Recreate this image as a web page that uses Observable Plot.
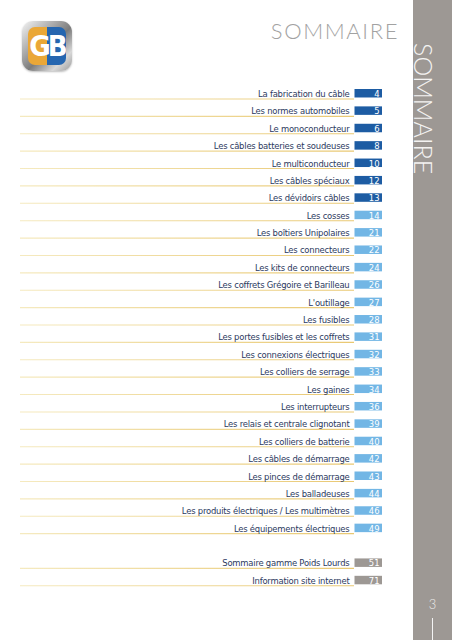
<!DOCTYPE html>
<html>
<head>
<meta charset="utf-8">
<script src="https://cdn.jsdelivr.net/npm/d3@7"></script>
<script src="https://cdn.jsdelivr.net/npm/@observablehq/plot@0.6"></script>
<style>
  html, body { margin: 0; padding: 0; background: #fff; }
  #page { position: relative; width: 452px; height: 640px; overflow: hidden; background: #fff; }
  #page > * { position: absolute; }
  #chart text.toc { letter-spacing: -0.22px; }
  #band { left: 413px; top: 0; width: 39px; height: 640px; background: #9d9894; }
  #title { right: 53px; top: 19.5px; font: 300 22px/22px "Lato", sans-serif; letter-spacing: 1.6px; color: #a2a2a2; white-space: nowrap; }
  #vtitle { left: 437px; top: 43px; font: 300 25px/26px "Lato", sans-serif; letter-spacing: 0px; color: #f4f3f2; transform: rotate(90deg); transform-origin: 0 0; white-space: nowrap; }
  #folio { left: 422px; top: 598px; width: 21px; text-align: center; font: 300 13px/13px "Lato", sans-serif; color: #ecebea; }
  #folioLine { left: 432px; top: 618px; width: 1px; height: 22px; background: #f4f4f4; }
  #logo { left: 22px; top: 21px; width: 50px; height: 50px; border-radius: 11px;
          background: linear-gradient(135deg, #f4f4f4 0%, #a9a9a9 35%, #7c7c7c 55%, #d8d8d8 80%, #9a9a9a 100%);
          box-shadow: 0 1px 2px rgba(0,0,0,0.25); }
  #logoIn { position: absolute; left: 6px; top: 6px; width: 38px; height: 38px; border-radius: 7px; overflow: hidden;
            background: linear-gradient(90deg, #eaa737 0 50%, #2566b0 50% 100%); }
  #logoTxt { position: absolute; left: 0; top: 3px; width: 38px; text-align: center; font: bold 29px/32px "DejaVu Sans Condensed", sans-serif; color: #fff; letter-spacing: -3px; }
</style>
</head>
<body>
<div id="page">
  <div id="chart" style="left:0;top:0"></div>
  <div id="band"></div>
  <div id="logo"><div id="logoIn"><div id="logoTxt">GB</div></div></div>
  <div id="title">SOMMAIRE</div>
  <div id="vtitle">SOMMAIRE</div>
  <div id="folio">3</div>
  <div id="folioLine"></div>
</div>
<script>
// ---- data ----
const titles = [
  "La fabrication du câble",
  "Les normes automobiles",
  "Le monoconducteur",
  "Les câbles batteries et soudeuses",
  "Le multiconducteur",
  "Les câbles spéciaux",
  "Les dévidoirs câbles",
  "Les cosses",
  "Les boîtiers Unipolaires",
  "Les connecteurs",
  "Les kits de connecteurs",
  "Les coffrets Grégoire et Barilleau",
  "L'outillage",
  "Les fusibles",
  "Les portes fusibles et les coffrets",
  "Les connexions électriques",
  "Les colliers de serrage",
  "Les gaines",
  "Les interrupteurs",
  "Les relais et centrale clignotant",
  "Les colliers de batterie",
  "Les câbles de démarrage",
  "Les pinces de démarrage",
  "Les balladeuses",
  "Les produits électriques / Les multimètres",
  "Les équipements électriques",
  "Sommaire gamme Poids Lourds",
  "Information site internet"
];
const pages = [4, 5, 6, 8, 10, 12, 13, 14, 21, 22, 24, 26, 27, 28, 31, 32, 33, 34, 36, 39, 40, 42, 43, 44, 46, 49, 51, 71];
const groups = [
  "câbles", "câbles", "câbles", "câbles", "câbles", "câbles", "câbles",
  "accessoires", "accessoires", "accessoires", "accessoires", "accessoires", "accessoires",
  "accessoires", "accessoires", "accessoires", "accessoires", "accessoires", "accessoires",
  "accessoires", "accessoires", "accessoires", "accessoires", "accessoires", "accessoires",
  "accessoires",
  "poids lourds", "poids lourds"
];
const groupNames = ["câbles", "accessoires", "poids lourds"];
const groupColors = ["#1d5ca3", "#72b6e5", "#9d9894"];

// ---- table built from the arrays ----
const rows = titles.map((t, i) => ({key: "r" + i, title: t, page: String(pages[i]), group: groups[i]}));
const yDomain = [];
rows.forEach((r, i) => {
  if (i > 0 && r.group === "poids lourds" && rows[i - 1].group !== "poids lourds") yDomain.push("gap");
  yDomain.push(r.key);
});

const textFont = "'Liberation Sans Narrow', 'DejaVu Sans Condensed', sans-serif";

const defs = () => {
  const ns = "http://www.w3.org/2000/svg";
  const d = document.createElementNS(ns, "defs");
  const g = document.createElementNS(ns, "linearGradient");
  g.setAttribute("id", "leader");
  g.setAttribute("gradientUnits", "userSpaceOnUse");
  g.setAttribute("x1", "20"); g.setAttribute("x2", "354");
  g.setAttribute("y1", "0"); g.setAttribute("y2", "0");
  [["0", "#f5eac0"], ["1", "#e9c872"]].forEach(([o, c]) => {
    const s = document.createElementNS(ns, "stop");
    s.setAttribute("offset", o); s.setAttribute("stop-color", c);
    g.appendChild(s);
  });
  d.appendChild(g);
  return d;
};

const chart = Plot.plot({
  width: 452,
  height: 640,
  margin: 0,
  style: {background: "transparent"},
  x: {type: "linear", domain: [0, 452], range: [0, 452], axis: null},
  y: {type: "band", domain: yDomain, range: [84.8, 589.0], padding: 0, round: false, axis: null},
  color: {domain: groupNames, range: groupColors},
  marks: [
    defs,
    Plot.ruleY(rows, {y: "key", x1: 20, x2: 354, dy: 5, stroke: "url(#leader)", strokeWidth: 1.1}),
    Plot.barX(rows, {y: "key", x1: 354.5, x2: 382, fill: "group", insetTop: 4.2, insetBottom: 4.7}),
    Plot.text(rows, {y: "key", x: 349, text: "title", textAnchor: "end", fill: "#2c3a5e",
                     fontSize: 9.4, fontFamily: textFont, className: "toc"}),
    Plot.text(rows, {y: "key", x: 379, text: "page", textAnchor: "end", fill: "#ffffff",
                     fontSize: 9.4, fontFamily: textFont})
  ]
});
chart.querySelectorAll("text").forEach(t => {
  if (t.parentNode && t.parentNode.getAttribute && t.parentNode.getAttribute("class") === "toc") t.style.letterSpacing = "-0.22px";
});
document.getElementById("chart").appendChild(chart);
</script>
</body>
</html>
